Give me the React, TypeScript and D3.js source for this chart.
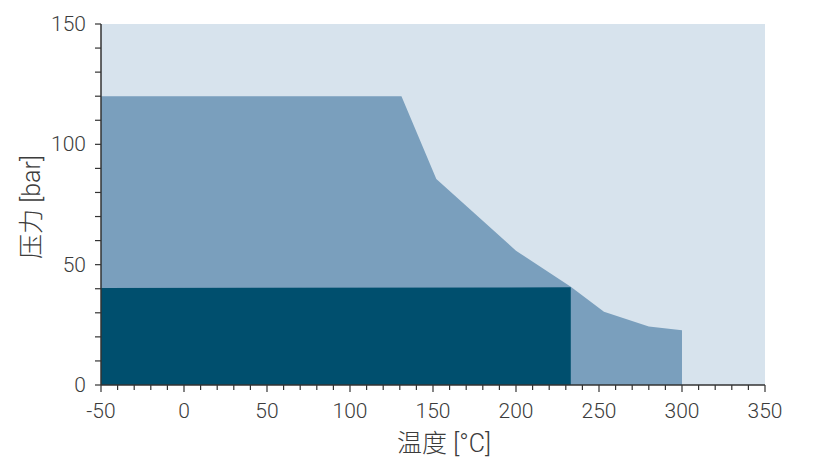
import React from "react";
import * as d3 from "d3";

const outerTemps = [-50, 131, 152, 200, 233, 253, 280, 300];
const outerPressures = [120, 120, 85.6, 55.8, 40.8, 30.4, 24.3, 22.7];
const innerTemps = [-50, 233];
const innerPressures = [40.3, 40.6];
const xTicks = [-50, 0, 50, 100, 150, 200, 250, 300, 350];
const yTicks = [0, 50, 100, 150];
const xLabel = "温度 [°C]";
const yLabel = "压力 [bar]";

const W = 814, H = 467;
const m = { left: 101, right: 765, top: 24, bottom: 385 };
const FONT = "Roboto, 'Noto Sans CJK SC', sans-serif";

export default function App() {
  const x = d3.scaleLinear().domain([-50, 350]).range([m.left, m.right]);
  const y = d3.scaleLinear().domain([0, 150]).range([m.bottom, m.top]);
  const area = d3.area<[number, number]>().x(d => x(d[0])).y0(y(0)).y1(d => y(d[1]));
  const outer = outerTemps.map((t, i) => [t, outerPressures[i]] as [number, number]);
  const inner = innerTemps.map((t, i) => [t, innerPressures[i]] as [number, number]);
  const xMinor = d3.range(-50, 351, 10);
  const yMinor = d3.range(0, 151, 10);
  const axisColor = "#333";
  const textColor = "#3c3c3c";
  return (
    <svg width={W} height={H} style={{ position: "absolute", left: 0, top: 0 }}>
      <rect x={m.left} y={m.top} width={m.right - m.left} height={m.bottom - m.top} fill="#d7e3ed" />
      <path d={area(outer) || ""} fill="#7a9fbd" />
      <path d={area(inner) || ""} fill="#004f6e" />
      <line x1={m.left} x2={m.left} y1={m.top} y2={m.bottom} stroke={axisColor} strokeWidth={1.5} />
      <line x1={m.left} x2={m.right} y1={m.bottom} y2={m.bottom} stroke={axisColor} strokeWidth={1.5} />
      {xMinor.map(v => (
        <line key={"xt" + v} x1={x(v)} x2={x(v)} y1={m.bottom} y2={m.bottom + (v % 50 === 0 ? 7 : 5)} stroke={axisColor} strokeWidth={1.2} />
      ))}
      {yMinor.map(v => (
        <line key={"yt" + v} x1={m.left - 6} x2={m.left} y1={y(v)} y2={y(v)} stroke={axisColor} strokeWidth={1.2} />
      ))}
      {xTicks.map(v => (
        <text key={"xl" + v} x={x(v)} y={418} textAnchor="middle" fontFamily={FONT} fontWeight={300} fontSize={21} fill={textColor}>{v}</text>
      ))}
      {yTicks.map(v => (
        <text key={"yl" + v} x={86} y={y(v)} dy="0.33em" textAnchor="end" fontFamily={FONT} fontWeight={300} fontSize={21} fill={textColor}>{v}</text>
      ))}
      <text x={444} y={452} textAnchor="middle" fontFamily={FONT} fontWeight={300} fontSize={25} fill={textColor}>{xLabel}</text>
      <text transform={`translate(40, 207) rotate(-90)`} textAnchor="middle" fontFamily={FONT} fontWeight={300} fontSize={25} fill={textColor}>{yLabel}</text>
    </svg>
  );
}
